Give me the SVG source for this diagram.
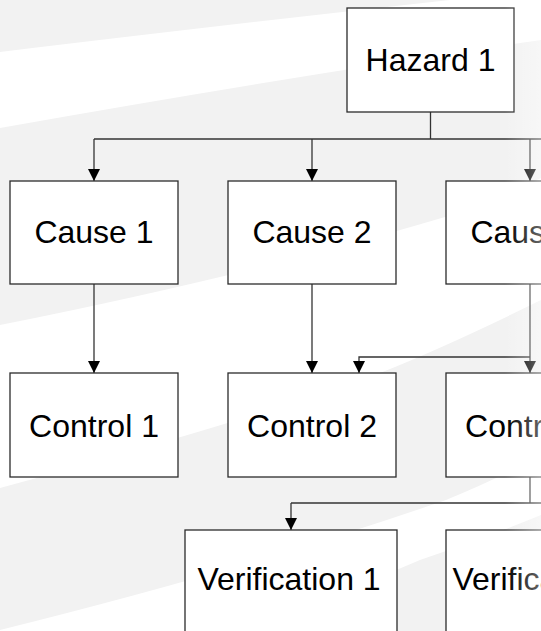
<svg xmlns="http://www.w3.org/2000/svg" width="541" height="631" viewBox="0 0 541 631">
  <defs>
    <style>
      .box { fill: #ffffff; stroke: #2b2b2b; stroke-width: 1.3; }
      .lbl { font-family: "Liberation Sans", Arial, sans-serif; font-size: 32px; fill: #000000; text-anchor: middle; }
      .conn { fill: none; stroke: #333333; stroke-width: 1.3; }
      .arr { marker-end: url(#ah); }
      .band { fill: #ffffff; }
    </style>
    <marker id="ah" markerUnits="userSpaceOnUse" markerWidth="12" markerHeight="13" refX="12" refY="6" orient="auto" viewBox="0 0 12 12">
      <path d="M0,0 L12,6 L0,12 z" fill="#000000"/>
    </marker>
    <linearGradient id="edge" x1="0" y1="0" x2="1" y2="0">
      <stop offset="0" stop-color="#ffffff" stop-opacity="0"/>
      <stop offset="1" stop-color="#ffffff" stop-opacity="0.4"/>
    </linearGradient>
  </defs>

  <g id="background">
    <rect x="0" y="0" width="541" height="631" fill="#f2f2f2"/>
    <path class="band" d="M0,52 Q250,22 450,0 L541,0 L541,40 Q300,75 0,128 Z"/>
    <path class="band" d="M0,325 Q250,275 445,217 Q500,198 541,178 L541,300 Q450,345 380,373 Q250,420 0,488 Z"/>
    <path class="band" d="M0,630 Q250,568 446,500 Q500,478 541,455 L541,515 Q480,540 420,560 Q350,590 240,631 L0,631 Z"/>
  </g>

  <g id="connectors">
    <path class="conn" d="M430.5,112 V139"/>
    <path class="conn" d="M94,139 H541"/>
    <path class="conn arr" d="M94,139 V181"/>
    <path class="conn arr" d="M312,139 V181"/>
    <path class="conn arr" d="M530,139 V181"/>
    <path class="conn arr" d="M94,284 V373"/>
    <path class="conn arr" d="M312,284 V373"/>
    <path class="conn arr" d="M530,284 V373"/>
    <path class="conn arr" d="M530,357 H359 V373"/>
    <path class="conn" d="M530,477 V503"/>
    <path class="conn" d="M291,503 H541"/>
    <path class="conn arr" d="M291,503 V530"/>
  </g>

  <g id="hazard1">
    <rect class="box" x="347" y="8" width="167" height="104"/>
    <text class="lbl" x="430.5" y="71">Hazard 1</text>
  </g>
  <g id="cause1">
    <rect class="box" x="10" y="181" width="168" height="103"/>
    <text class="lbl" x="94" y="243">Cause 1</text>
  </g>
  <g id="cause2">
    <rect class="box" x="228" y="181" width="168" height="103"/>
    <text class="lbl" x="312" y="243">Cause 2</text>
  </g>
  <g id="cause3">
    <rect class="box" x="446" y="181" width="168" height="103"/>
    <text class="lbl" x="530" y="243">Cause 3</text>
  </g>
  <g id="control1">
    <rect class="box" x="10" y="373" width="168" height="104"/>
    <text class="lbl" x="94" y="437">Control 1</text>
  </g>
  <g id="control2">
    <rect class="box" x="228" y="373" width="168" height="104"/>
    <text class="lbl" x="312" y="437">Control 2</text>
  </g>
  <g id="control3">
    <rect class="box" x="446" y="373" width="168" height="104"/>
    <text class="lbl" x="530" y="437">Control 3</text>
  </g>
  <g id="verification1">
    <rect class="box" x="185" y="530" width="212" height="104"/>
    <text class="lbl" x="289" y="590">Verification 1</text>
  </g>
  <g id="verification2">
    <rect class="box" x="446" y="530" width="212" height="104"/>
    <text class="lbl" x="544" y="590">Verification 2</text>
  </g>

  <rect id="edge-fade" x="505" y="0" width="36" height="631" fill="url(#edge)"/>
</svg>
